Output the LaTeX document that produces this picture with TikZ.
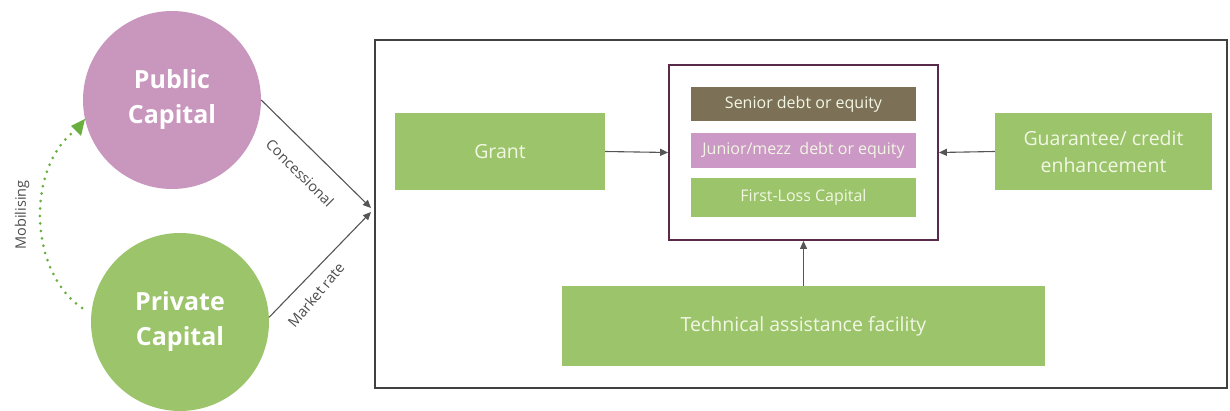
\documentclass[tikz,border=0pt]{standalone}
\usepackage{fontspec}
\setmainfont{Open Sans}
\usetikzlibrary{arrows.meta}
\definecolor{pgreen}{HTML}{9BC46B}
\definecolor{dotgreen}{HTML}{6AAE3F}
\definecolor{ppink}{HTML}{C996BD}
\definecolor{jpink}{HTML}{CC98C5}
\definecolor{sbrown}{HTML}{7C7157}
\definecolor{ltext}{HTML}{F2F7E4}
\definecolor{framecol}{HTML}{5A2A4A}
\definecolor{arrcol}{HTML}{555555}
\tikzset{
  capcircle/.style={circle,minimum size=178pt,inner sep=0pt,align=center,text=white,font=\fontsize{25}{35}\selectfont\bfseries},
  gbox/.style={fill=pgreen,text=ltext,align=center,inner sep=0pt,font=\fontsize{19.5}{27}\selectfont},
  tbox/.style={inner sep=0pt,align=center,text=ltext,font=\fontsize{16}{18}\selectfont},
  arr/.style={draw=arrcol,line width=1.1pt,-{Triangle[length=8pt,width=7pt]}},
  lbl/.style={font=\fontsize{14.5}{16}\selectfont,text=black!70},
}
\begin{document}
\begin{tikzpicture}[x=1pt,y=-1pt]
\useasboundingbox (0,0) rectangle (1230,411);
% circles
\node[capcircle,fill=ppink] (pub) at (172,100) {Public\\Capital};
\node[capcircle,fill=pgreen] (pri) at (180,322) {Private\\Capital};
% outer frame
\draw[line width=1.3pt,draw=black!75] (375,40) rectangle (1227,388);
\coordinate (entry1) at (371,208);
\coordinate (entry2) at (371,212);
% connectors from circles
\draw[arr] (pub.east) -- (entry1);
\node[lbl,rotate=-45] (conc) at (300,173) {Concessional};
\draw[arr] (pri.3) -- (entry2);
\node[lbl,rotate=50] (mkt) at (316,295) {Market rate};
% mobilising
\coordinate (mobstart) at (82,308);
\coordinate (mobend) at (76,130);
\draw[draw=dotgreen,line width=3pt,dash pattern=on 0pt off 7.5pt,line cap=round] (mobstart) .. controls (27,270) and (27,165) .. (mobend);
\draw[fill=dotgreen,draw=none] (85,119) -- (71,126) -- (81,136) -- cycle;
\node[lbl,rotate=90] (mob) at (22,215) {Mobilising};
% boxes
\node[gbox,minimum width=210pt,minimum height=77pt] (grant) at (500,151.5) {Grant};
\node[gbox,minimum width=217pt,minimum height=77pt] (guar) at (1103.5,151.5) {Guarantee/ credit\\enhancement};
\node[gbox,minimum width=483pt,minimum height=80pt] (ta) at (803.5,326) {Technical assistance facility};
% central frame
\node[draw=framecol,line width=1.8pt,minimum width=269pt,minimum height=175pt,inner sep=0pt] (cap) at (803.5,152.5) {};
\node[tbox,fill=sbrown,minimum width=225pt,minimum height=34pt] (sen) at (803.5,104) {Senior debt or equity};
\node[tbox,fill=jpink,minimum width=225pt,minimum height=35pt] (jun) at (803.5,150.5) {Junior/mezz\ \ debt or equity};
\node[tbox,fill=pgreen,minimum width=225pt,minimum height=39pt] (fl) at (803.5,197.5) {First-Loss Capital};
% arrows into structure
\draw[arr] (grant.east) -- (cap.west);
\draw[arr] (guar.west) -- (cap.east);
\draw[arr] (ta.north) -- (cap.south);
\end{tikzpicture}
\end{document}
